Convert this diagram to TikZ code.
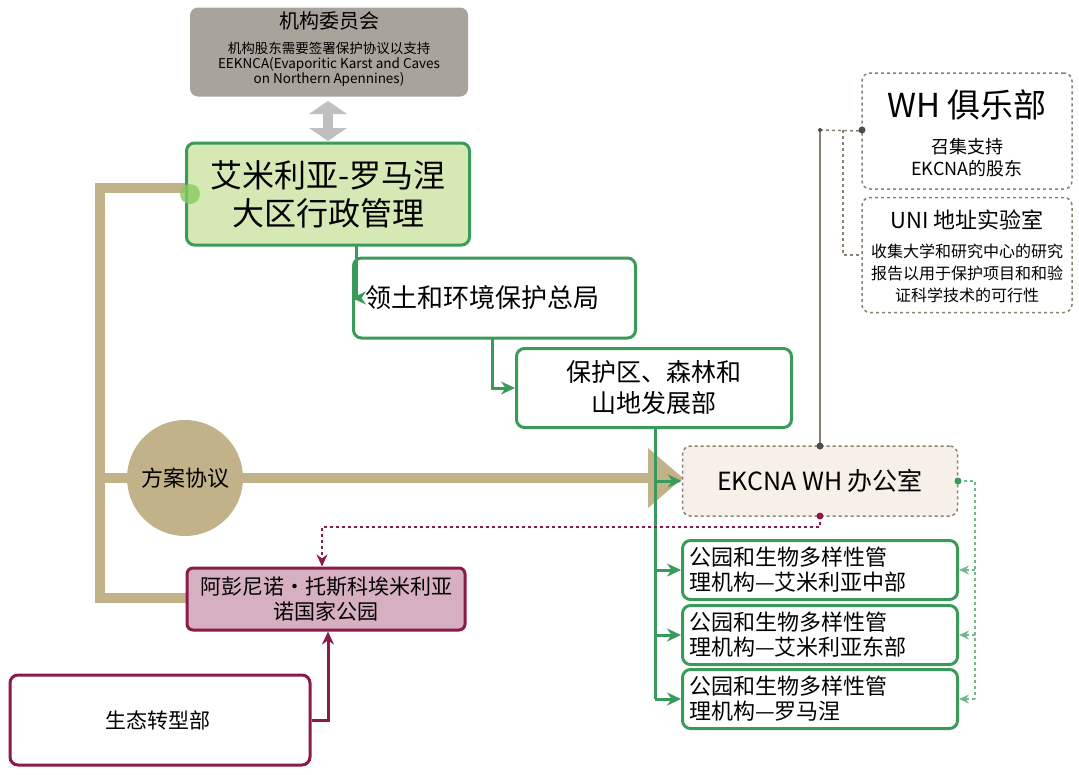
\documentclass[tikz,border=0pt]{standalone}
\usepackage{fontspec}
\setmainfont{Noto Sans CJK SC}
\usetikzlibrary{arrows.meta}
\definecolor{gr}{HTML}{3A9A5A}
\definecolor{tan}{HTML}{C2B28A}
\definecolor{mar}{HTML}{8A1A4A}
\definecolor{dg}{HTML}{8C8070}
\definecolor{lgreen}{HTML}{D6E9B4}
\definecolor{cgray}{HTML}{A8A39B}
\begin{document}
\begin{tikzpicture}[x=1pt,y=-1pt,
 bx/.style={draw=gr,line width=3pt,rounded corners=8pt,fill=white,align=center,inner sep=0pt},
 dbx/.style={draw=dg,dashed,line width=1.5pt,rounded corners=8pt,fill=white,align=center,inner sep=0pt},
 ga/.style={draw=gr,line width=3pt,-{Stealth[length=14pt,width=13pt]}}]
\useasboundingbox (0,0) rectangle (1079,774);
% tan structure
\draw[tan,line width=10pt] (190,188) -- (100,188) -- (100,598) -- (190,598);
\draw[tan,line width=10pt] (185,478) -- (655,478);
\fill[tan] (648,448) -- (683,478) -- (648,508) -- cycle;
\fill[tan] (100,473) rectangle (130,483);
% committee
\node[fill=cgray,rounded corners=8pt,minimum width=278,minimum height=89,inner sep=0pt] (com) at (329,52) {};
\node[align=center,font=\fontsize{13.5}{15}\selectfont] (comt) at (329,64) {机构股东需要签署保护协议以支持\\EEKNCA(Evaporitic Karst and Caves\\on Northern Apennines)};
\node[font=\fontsize{20}{22}\selectfont] (comh) at (329,21) {机构委员会};
\fill[black!25] (309,114) -- (328,101) -- (347,114) -- cycle;
\fill[black!25] (309,128) -- (328,141) -- (347,128) -- cycle;
\fill[black!25] (323,112) rectangle (333,130);
% main boxes
\node[bx,fill=lgreen,minimum width=283,minimum height=102,font=\fontsize{32}{38}\selectfont] (emi) at (328,194) {艾米利亚-罗马涅\\大区行政管理};
\fill[tan!70!green,opacity=.8] (190,194) circle (10pt);
\node[bx,minimum width=282,minimum height=80,font=\fontsize{26}{30}\selectfont,anchor=west,text width=270,align=left] (ter) at (352,298) {\hspace*{6pt}领土和环境保护总局};
\node[bx,minimum width=275,minimum height=79,font=\fontsize{25}{31}\selectfont] (pro) at (654,388) {保护区、森林和\\山地发展部};
\draw[ga] (356,245) |- (ter.west);
\draw[ga] (492,338) |- (pro.west);
% circle
\node[circle,fill=tan,minimum size=116,font=\fontsize{22}{24}\selectfont] (plan) at (185,478) {方案协议};
% EKCNA
\node[dbx,fill=brown!12,minimum width=275,minimum height=70,font=\fontsize{25}{28}\selectfont] (ek) at (820,481) {EKCNA WH 办公室};
% WH club / UNI
\node[dbx,minimum width=210,minimum height=116] (wh) at (967,131) {};
\node[font=\fontsize{33}{36}\selectfont] (wht) at (967,105) {WH 俱乐部};
\node[align=center,font=\fontsize{18}{22}\selectfont] (whs) at (967,158) {召集支持\\EKCNA的股东};
\node[dbx,minimum width=210,minimum height=115] (uni) at (967,255) {};
\node[font=\fontsize{22}{26}\selectfont] (unit) at (967,220) {UNI 地址实验室};
\node[align=center,font=\fontsize{16}{22}\selectfont] (unis) at (967,273) {收集大学和研究中心的研究\\报告以用于保护项目和和验\\证科学技术的可行性};
\draw[dg,line width=1.5pt] (820,446) -- (820,130);
\draw[dg,dashed,line width=1.5pt] (820,130) -- (wh.west);
\draw[dg,dashed,line width=1.5pt] (843,130) |- (uni.west);
\fill[black!70] (820,446) circle (3.5pt) (862,130) circle (3.5pt) (820,130) circle (2pt);
% parks
\foreach \n/\y/\t in {p1/570/艾米利亚中部,p2/635/艾米利亚东部,p3/699/罗马涅}{
 \node[bx,minimum width=275,minimum height=59,font=\fontsize{22}{25}\selectfont,text width=262,align=left] (\n) at (820,\y) {公园和生物多样性管\\理机构—\t};
}
\draw[gr,line width=3pt] (655,427) -- (655,699);
\draw[ga] (655,481) -- (ek.west);
\draw[ga] (655,570) -- (p1.west);
\draw[ga] (655,635) -- (p2.west);
\draw[ga] (655,699) -- (p3.west);
\draw[gr!70,dashed,line width=1.5pt] (ek.east) -- (975,481) -- (975,699);
\foreach \n in {p1,p2,p3} \draw[gr!70,dashed,line width=1.5pt,-{Stealth[length=10pt,width=9pt]}] (975,0 |- \n.east) -- (\n.east);
\fill[gr] (958,481) circle (3.5pt);
% park Apennine
\node[draw=mar,line width=3pt,rounded corners=6pt,fill=mar!35!white,minimum width=278,minimum height=62,align=center,font=\fontsize{21}{25}\selectfont,inner sep=0pt] (ape) at (326,599) {阿彭尼诺·托斯科埃米利亚\\诺国家公园};
\draw[mar,dashed,line width=2pt,-{Stealth[length=12pt,width=11pt]}] (820,516) -- (820,527) -- (322,527) -- (322,0 |- ape.north);
\fill[mar] (820,516) circle (3.5pt);
\node[draw=mar,line width=3pt,rounded corners=8pt,fill=white,minimum width=300,minimum height=90,font=\fontsize{21}{24}\selectfont,inner sep=0pt] (eco) at (160,720) {\hspace*{-5pt}生态转型部};
\draw[mar,line width=3pt,-{Stealth[length=13pt,width=12pt]}] (eco.east) -- (328,720) -- (328,0 |- ape.south);
\end{tikzpicture}
\end{document}
